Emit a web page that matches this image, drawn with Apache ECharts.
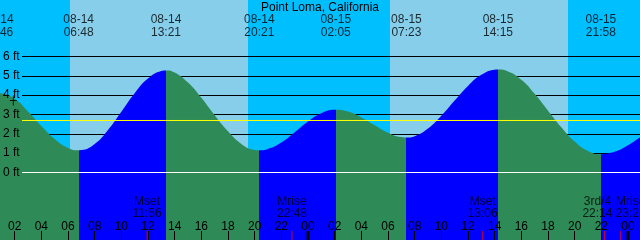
<!DOCTYPE html>
<html><head><meta charset="utf-8">
<script src="https://cdn.jsdelivr.net/npm/echarts@6.0.0/dist/echarts.min.js"></script>
<style>html,body{margin:0;padding:0;background:#00bfff}#c{width:640px;height:240px}</style>
</head><body><div id="c"></div>
<script>
// ---- data ----
const stationName = 'Point Loma, California';
const extremeTimes = ['08-14 00:46','08-14 06:48','08-14 13:21','08-14 20:21','08-15 02:05','08-15 07:23','08-15 14:15','08-15 21:58'];
const extremeHeights = [4.10, 1.15, 5.28, 1.15, 3.25, 1.81, 5.33, 0.94];
// hourly heights (ft) from 08-14 00:00 to 08-16 01:00
const hourlyHeights = [
  4.00, 4.09, 3.81, 3.15, 2.40, 1.73, 1.27,
  1.16, 1.48, 2.20, 3.14, 4.10, 4.86, 5.25,
  5.17, 4.65, 3.86, 2.96, 2.13, 1.48, 1.17,
  1.22, 1.55, 2.08, 2.64, 3.07, 3.25,
  3.15, 2.85, 2.45, 2.06, 1.83,
  1.88, 2.27, 2.93, 3.72, 4.48, 5.05, 5.32,
  5.23, 4.80, 4.07, 3.20, 2.34, 1.60, 1.11,
  0.94, 1.07, 1.41, 1.88
];
const sunriseTimes = ['08-14 06:09', '08-15 06:09'];
const sunsetTimes = ['08-14 19:30', '08-15 19:30'];
const moonEvents = ['Mset', 'Mrise', 'Mset', '3rd/4', 'Mrise'];
const moonTimes = ['08-14 11:56', '08-14 22:48', '08-15 13:06', '08-15 22:14', '08-15 23:27'];
const heightTicks = [0, 1, 2, 3, 4, 5, 6];
const hourTicks = [2,4,6,8,10,12,14,16,18,20,22,24,26,28,30,32,34,36,38,40,42,44,46,48];
const meanSeaLevel = 2.69;
const markTime = '08-14 01:54';
const markHeight = 3.73;

// ---- layout / style ----
const FONT = 'Liberation Sans';
const NIGHT = '#00bfff', DAY = '#87ceeb', FLOOD = '#0000ff', EBB = '#2e8b57';
const W = 640, H = 240;
const PX_PER_HOUR = W / 48;
const T_MIN = 0.9, T_MAX = T_MIN + 48;
const PX_PER_FT = 58 / 3, ZERO_Y = 172.5;
const Y_MAX = ZERO_Y / PX_PER_FT, Y_MIN = Y_MAX - H / PX_PER_FT;
const yAt = py => (ZERO_Y - py) / PX_PER_FT;
const LINE_START = T_MIN + 22 / PX_PER_HOUR;

function hoursOf(s) {
  const [md, hm] = s.split(' ');
  const day = +md.split('-')[1];
  const [h, m] = hm.split(':').map(Number);
  return (day - 14) * 24 + h + m / 60;
}

const extT = extremeTimes.map(hoursOf);
const tideData = hourlyHeights.map((h, i) => [i, h])
  .concat(extT.map((t, i) => [t, extremeHeights[i]]))
  .sort((a, b) => a[0] - b[0]);

const n = extT.length;
const pieces = [{ lte: extT[0], color: extremeHeights[0] > extremeHeights[1] ? FLOOD : EBB }];
for (let i = 0; i < n - 1; i++) {
  pieces.push({ gt: extT[i], lte: extT[i + 1], color: extremeHeights[i + 1] > extremeHeights[i] ? FLOOD : EBB });
}
pieces.push({ gt: extT[n - 1], color: extremeHeights[n - 1] < extremeHeights[n - 2] ? FLOOD : EBB });

const labelNudge = { 3: -7, 4: 10 };
const tickY = yAt(235.5);

const txt = { color: '#000', fontSize: 12, fontFamily: FONT };

const chart = echarts.init(document.getElementById('c'), null, { renderer: 'canvas' });
chart.setOption({
  animation: false,
  backgroundColor: NIGHT,
  title: {
    text: stationName, left: 'center', top: 2, padding: 0,
    textStyle: Object.assign({ fontWeight: 'normal' }, txt)
  },
  grid: [
    { left: 0, right: 0, top: 0, bottom: 0 },
    { left: 22, right: 0, top: ZERO_Y - 6 * PX_PER_FT, bottom: H - ZERO_Y }
  ],
  xAxis: [
    {
      type: 'value', gridIndex: 0, min: T_MIN, max: T_MAX, z: 10, position: 'bottom',
      axisLine: { show: false, onZero: false }, splitLine: { show: false },
      axisTick: { show: true, inside: true, length: 9, customValues: hourTicks, lineStyle: { color: '#000', width: 1 } },
      axisLabel: {
        show: true, inside: true, margin: 7, customValues: hourTicks,
        formatter: v => String(Math.round(v) % 24).padStart(2, '0'),
        color: '#000', fontSize: 12, fontFamily: FONT
      }
    },
    {
      type: 'value', gridIndex: 1, min: LINE_START, max: T_MAX, show: false,
      axisLine: { show: false, onZero: false }, axisTick: { show: false }, axisLabel: { show: false }, splitLine: { show: false }
    }
  ],
  yAxis: [
    {
      type: 'value', gridIndex: 0, min: Y_MIN, max: Y_MAX, z: 10,
      axisLine: { show: false, onZero: false }, axisTick: { show: false }, splitLine: { show: false },
      axisLabel: {
        show: true, inside: true, margin: 3, customValues: heightTicks,
        formatter: v => Math.round(v) + ' ft',
        color: '#000', fontSize: 12, fontFamily: FONT
      }
    },
    {
      type: 'value', gridIndex: 1, min: 0, max: 6, interval: 1, z: 1,
      axisLine: { show: false, onZero: false }, axisTick: { show: false }, axisLabel: { show: false },
      splitLine: { show: true, lineStyle: { color: '#000', width: 1 } }
    }
  ],
  visualMap: {
    type: 'piecewise', show: false, dimension: 0, seriesIndex: 1, pieces: pieces
  },
  series: [
    {
      type: 'custom', z: 0, silent: true, clip: true, xAxisIndex: 0, yAxisIndex: 0,
      data: sunriseTimes.map((s, i) => [hoursOf(s), hoursOf(sunsetTimes[i])]),
      renderItem: (p, api) => {
        const a = api.coord([api.value(0), Y_MAX]);
        const b = api.coord([api.value(1), Y_MIN]);
        return { type: 'rect', shape: { x: a[0], y: a[1], width: b[0] - a[0], height: b[1] - a[1] }, style: { fill: DAY } };
      }
    },
    {
      type: 'line', z: 2, silent: true, xAxisIndex: 0, yAxisIndex: 0,
      data: tideData, smooth: true, showSymbol: false, symbol: 'none',
      lineStyle: { width: 0 },
      areaStyle: { opacity: 1, origin: 'start' }
    },
    {
      type: 'line', z: 3, silent: true, symbol: 'none',
      data: [[LINE_START, 0], [T_MAX, 0]], lineStyle: { color: '#ffffff', width: 1 }
    },
    {
      type: 'line', z: 3, silent: true, symbol: 'none',
      data: [[LINE_START, meanSeaLevel], [T_MAX, meanSeaLevel]], lineStyle: { color: '#ffff00', width: 1 }
    },
    {
      type: 'scatter', z: 12, silent: true, clip: false,
      symbol: 'path://M0,4.5h7v1h-7zM3,0h1v10h-1z', symbolSize: [7, 10],
      itemStyle: { color: '#000' },
      data: [[hoursOf(markTime), markHeight]]
    },
    {
      type: 'scatter', z: 12, silent: true, clip: false,
      symbol: 'rect', symbolSize: 1, itemStyle: { color: 'rgba(0,0,0,0)' },
      data: extremeTimes.map(s => ({ name: s, value: [hoursOf(s), yAt(26.5)] })),
      label: Object.assign({ show: true, position: 'inside', lineHeight: 13, formatter: p => p.name.replace(' ', '\n') }, txt)
    },
    {
      type: 'scatter', z: 12, silent: true, clip: false,
      symbol: 'rect', symbolSize: [3, 9], itemStyle: { color: '#000' },
      data: hourTicks.filter(h => h % 24 === 0).map(h => [h, tickY])
    },
    {
      type: 'scatter', z: 13, silent: true, clip: false,
      symbol: 'rect', symbolSize: [1, 9], itemStyle: { color: '#ff0000' },
      data: moonTimes.map((s, i) => ({
        name: moonEvents[i] + '\n' + s.split(' ')[1],
        value: [hoursOf(s), tickY],
        label: { offset: [labelNudge[i] || 0, 0] }
      })),
      label: Object.assign({ show: true, position: 'top', distance: 11, lineHeight: 12, formatter: p => p.name }, txt)
    }
  ]
});
</script></body></html>
